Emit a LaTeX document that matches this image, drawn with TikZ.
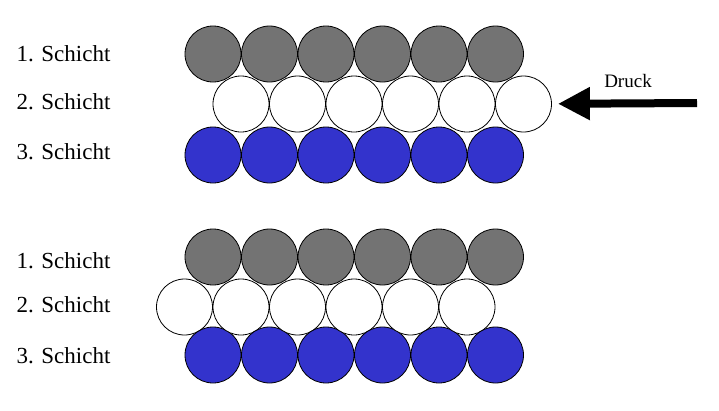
\documentclass[tikz,border=0pt]{standalone}
\usepackage{fontspec}
\setmainfont{Liberation Serif}
\usetikzlibrary{arrows.meta}
\definecolor{ballblue}{RGB}{51,51,204}
\definecolor{ballgray}{RGB}{115,115,115}
\begin{document}
\begin{tikzpicture}[x=1pt, y=-1pt,
    ball/.style={draw, circle, minimum size=56pt, inner sep=0pt, line width=0.8pt},
    dark/.style={ball, fill=ballgray},
    light/.style={ball, fill=white},
    blue/.style={ball, fill=ballblue},
    layer/.style={anchor=west, font=\fontsize{23}{26}\selectfont}]
    \useasboundingbox (0, 0) rectangle (719, 410);

    % before the push
    \foreach \i in {1,...,6} {
        \node[dark] (a\i) at ({156.5+56.5*\i}, 54) {};
        \node[light] (b\i) at ({184.5+56.5*\i}, 104) {};
        \node[blue] (c\i) at ({156.5+56.5*\i}, 155) {};
    }
    \node[layer] (la) at (13, 54) {1. Schicht};
    \node[layer] (lb) at (13, 102) {2. Schicht};
    \node[layer] (lc) at (13, 152) {3. Schicht};

    \node[font=\fontsize{19}{22}\selectfont] (druck) at (628, 81) {Druck};
    \coordinate (push) at (697, 103);
    \draw[line width=8pt, -{Triangle[length=32pt, width=31pt]}, shorten >=6pt] (push) -- (b6);

    % after the push
    \foreach \i in {1,...,6} {
        \node[dark] (d\i) at ({156.5+56.5*\i}, 257) {};
        \node[light] (e\i) at ({128+56.5*\i}, 307) {};
        \node[blue] (f\i) at ({156.5+56.5*\i}, 355) {};
    }
    \node[layer] (ld) at (13, 261) {1. Schicht};
    \node[layer] (le) at (13, 305) {2. Schicht};
    \node[layer] (lf) at (13, 356) {3. Schicht};
\end{tikzpicture}
\end{document}
